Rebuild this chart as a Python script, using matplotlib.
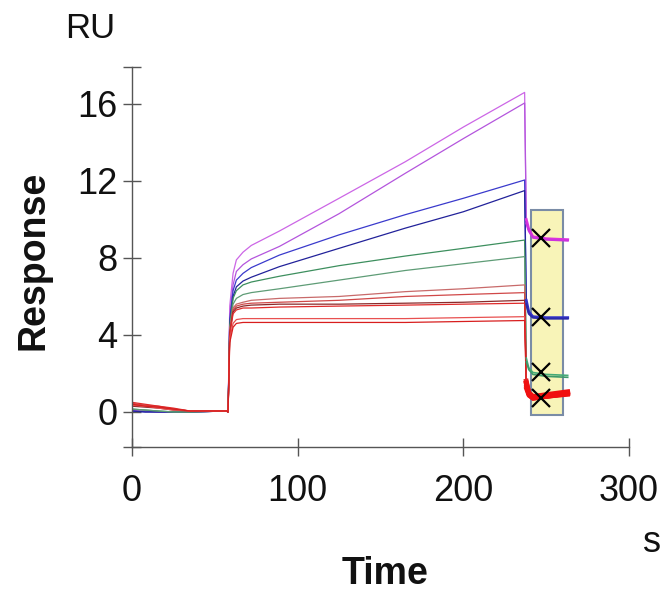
import numpy as np
import matplotlib
matplotlib.use("Agg")
import matplotlib.pyplot as plt
from matplotlib.patches import Rectangle

plt.rcParams['font.family'] = ['Liberation Sans', 'DejaVu Sans']

# ------------------------------
# data
# ------------------------------
t_base = [0, 8, 16, 25, 35, 57]
t_assoc = [58, 59, 61, 63, 67, 72, 89, 125, 165, 200, 237]
t_dis = [238, 239.5, 242, 250, 263]

curve_colors = ['#cc66e6', '#b455dd', '#3a3acc', '#22229a', '#3d8f5e', '#5e9c76',
                '#c86a6a', '#d04848', '#8a2a2a', '#e02a2a', '#e85050', '#d81e1e']

base_vals = [
    [0.10, 0.05, 0.00, 0.00, 0.00, 0.05],
    [0.05, 0.05, 0.00, 0.00, 0.00, 0.05],
    [0.05, 0.00, 0.00, 0.00, 0.00, 0.05],
    [0.05, 0.00, 0.00, 0.00, 0.00, 0.05],
    [0.15, 0.10, 0.05, 0.00, 0.00, 0.05],
    [0.15, 0.10, 0.05, 0.00, 0.00, 0.05],
    [0.40, 0.35, 0.25, 0.15, 0.05, 0.05],
    [0.45, 0.35, 0.30, 0.15, 0.05, 0.05],
    [0.30, 0.25, 0.20, 0.10, 0.05, 0.05],
    [0.50, 0.40, 0.30, 0.20, 0.05, 0.05],
    [0.35, 0.30, 0.20, 0.10, 0.05, 0.05],
    [0.40, 0.30, 0.25, 0.15, 0.05, 0.05],
]

assoc_vals = [
    [0.0, 5.5, 7.2, 7.9, 8.3, 8.65, 9.4, 11.1, 13.0, 14.8, 16.6],
    [0.0, 5.0, 6.6, 7.3, 7.65, 7.95, 8.6, 10.3, 12.4, 14.2, 16.05],
    [0.0, 4.8, 6.3, 6.85, 7.2, 7.5, 8.15, 9.2, 10.25, 11.1, 12.05],
    [0.0, 4.6, 6.0, 6.5, 6.8, 7.0, 7.55, 8.5, 9.55, 10.4, 11.5],
    [0.0, 4.5, 5.9, 6.3, 6.6, 6.75, 7.05, 7.6, 8.1, 8.5, 8.93],
    [0.0, 4.3, 5.6, 5.9, 6.1, 6.2, 6.4, 6.85, 7.35, 7.7, 8.07],
    [0.0, 4.3, 5.4, 5.6, 5.7, 5.8, 5.9, 6.0, 6.25, 6.4, 6.6],
    [0.0, 4.2, 5.3, 5.5, 5.6, 5.65, 5.7, 5.8, 6.0, 6.1, 6.2],
    [0.0, 4.1, 5.2, 5.4, 5.5, 5.55, 5.6, 5.6, 5.65, 5.7, 5.8],
    [0.0, 4.0, 5.1, 5.3, 5.4, 5.4, 5.45, 5.5, 5.55, 5.6, 5.65],
    [0.0, 3.8, 4.6, 4.8, 4.85, 4.85, 4.85, 4.85, 4.85, 4.9, 4.95],
    [0.0, 3.6, 4.4, 4.6, 4.65, 4.65, 4.65, 4.65, 4.65, 4.7, 4.75],
]

dis_colors = ['#dd33dd', '#cc33dd', '#3333cc', '#2a2aaa', '#44aa77', '#3d9a6a',
              '#e82020', '#e82020', '#d01818', '#f01010', '#f01010', '#f01010']
dis_vals = [
    [10.0, 9.5, 9.1, 9.0, 8.95],
    [9.8, 9.4, 9.05, 8.95, 8.9],
    [5.8, 5.2, 4.95, 4.9, 4.9],
    [5.6, 5.1, 4.9, 4.85, 4.85],
    [2.8, 2.3, 2.05, 1.95, 1.9],
    [2.6, 2.2, 1.95, 1.85, 1.8],
    [1.6, 1.0, 0.8, 0.85, 1.0],
    [1.5, 0.95, 0.75, 0.8, 0.95],
    [1.4, 0.9, 0.7, 0.8, 0.95],
    [1.5, 1.0, 0.8, 0.9, 1.05],
    [1.3, 0.9, 0.7, 0.8, 0.95],
    [1.2, 0.85, 0.7, 0.8, 0.9],
]
dis_widths = [2.0, 1.5, 2.0, 1.5, 1.2, 1.2, 3.5, 3.5, 3.0, 3.5, 3.0, 3.0]

report_t = 247
report_y = [9.04, 4.94, 2.08, 0.73]

box_t = [241, 260]
box_y = [-0.15, 10.5]

yticks = [-1.82, 0, 4, 8, 12, 16, 17.92]
ytick_labels = ['', '0', '4', '8', '12', '16', '']
xticks = [0, 100, 200, 300]

# ------------------------------
# plot
# ------------------------------
fig = plt.figure(figsize=(6.71, 5.92), dpi=100)
ax = fig.add_axes([132 / 671, 1 - 447 / 592, (629 - 132) / 671, (447 - 67) / 592])

ax.add_patch(Rectangle((box_t[0], box_y[0]), box_t[1] - box_t[0], box_y[1] - box_y[0],
                       facecolor='#f8f4b8', edgecolor='#7a8ca6', linewidth=1.5, zorder=1))

for i in range(len(assoc_vals)):
    t = t_base + t_assoc + [t_dis[0]]
    y = base_vals[i] + assoc_vals[i] + [dis_vals[i][0]]
    ax.plot(t, y, color=curve_colors[i], linewidth=0.9, zorder=2)
    ax.plot(t_dis, dis_vals[i], color=dis_colors[i], linewidth=dis_widths[i], zorder=3)

ax.plot([report_t] * len(report_y), report_y, linestyle='none', marker='x',
        markersize=13, markeredgewidth=1.6, color='black', zorder=4)

ax.set_xlim(0, 300)
ax.set_ylim(yticks[0], yticks[-1])
ax.set_xticks(xticks)
ax.set_yticks(yticks)
ax.set_yticklabels(ytick_labels)

for s in ['top', 'right']:
    ax.spines[s].set_visible(False)
for s in ['left', 'bottom']:
    ax.spines[s].set_color('#555555')
    ax.spines[s].set_linewidth(1.0)

ax.tick_params(axis='both', direction='inout', length=13, width=1.0, color='#555555',
               labelsize=26, labelcolor='#111111')
ax.tick_params(axis='y', pad=4)
ax.tick_params(axis='x', pad=13)

fig.text(90 / 671, 1 - 28 / 592, 'RU', fontsize=25, ha='center', va='center', color='#111111')
fig.text(34 / 671, 1 - 260 / 592, 'Response', fontsize=27, fontweight='bold',
         rotation=90, ha='center', va='center', color='#111111')
fig.text(385 / 671, 1 - 574 / 592, 'Time', fontsize=27, fontweight='bold',
         ha='center', va='center', color='#111111')
fig.text(652 / 671, 1 - 542 / 592, 's', fontsize=26, ha='center', va='center', color='#111111')

fig.savefig('out.png', dpi=100)
